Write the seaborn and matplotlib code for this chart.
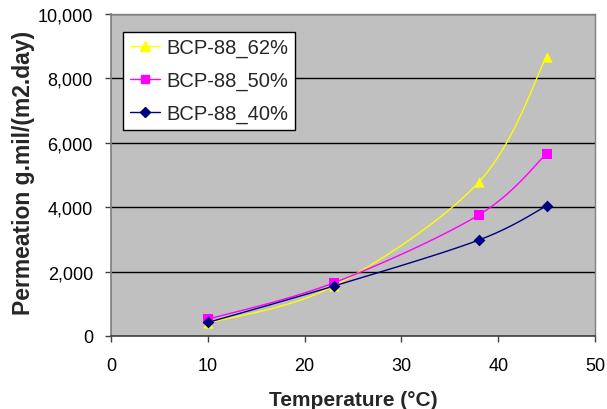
import numpy as np
import pandas as pd
import matplotlib
matplotlib.use("Agg")
import matplotlib.pyplot as plt
import seaborn as sns
from matplotlib.lines import Line2D
from matplotlib.ticker import FuncFormatter, MultipleLocator

temperature = [10, 23, 38, 45]
bcp_62 = [400, 1550, 4780, 8680]
bcp_50 = [520, 1650, 3760, 5660]
bcp_40 = [420, 1550, 2980, 4040]
series_names = ["BCP-88_62%", "BCP-88_50%", "BCP-88_40%"]

sns.set_theme(style="white")
plt.rcParams["font.family"] = ["Liberation Sans", "DejaVu Sans"]

df = pd.DataFrame({
    "Temperature": temperature * 3,
    "Permeation": bcp_62 + bcp_50 + bcp_40,
    "Series": [n for n in series_names for _ in temperature],
})

colors = {"BCP-88_62%": "#FFFF00", "BCP-88_50%": "#FF00FF", "BCP-88_40%": "#000080"}
markers = {"BCP-88_62%": "^", "BCP-88_50%": "s", "BCP-88_40%": "D"}
msizes = {"BCP-88_62%": 7.5, "BCP-88_50%": 6.5, "BCP-88_40%": 6}


def smooth(x, y, n=40):
    """Catmull-Rom curve through the points, like a smoothed spreadsheet line."""
    x = np.asarray(x, float)
    y = np.asarray(y, float)
    px = np.concatenate([[x[0]], x, [x[-1]]])
    py = np.concatenate([[y[0]], y, [y[-1]]])
    xs, ys = [], []
    t = np.linspace(0, 1, n)
    for i in range(1, len(px) - 2):
        p0, p1, p2, p3 = (np.array([px[j], py[j]]) for j in (i - 1, i, i + 1, i + 2))
        m1 = (p2 - p0) / 6.0
        m2 = (p3 - p1) / 6.0
        b0, b1, b2, b3 = p1, p1 + m1, p2 - m2, p2
        pts = ((1 - t) ** 3)[:, None] * b0 + (3 * (1 - t) ** 2 * t)[:, None] * b1 \
            + (3 * (1 - t) * t ** 2)[:, None] * b2 + (t ** 3)[:, None] * b3
        xs.extend(pts[:, 0])
        ys.extend(pts[:, 1])
    return np.array(xs), np.array(ys)


fig = plt.figure(figsize=(6.07, 4.10), dpi=100)
fig.patch.set_facecolor("white")
ax = fig.add_axes([111 / 607, 73 / 410, 484 / 607, 322 / 410])
ax.set_facecolor("#C0C0C0")

curves = []
for name in series_names:
    sub = df[df["Series"] == name]
    cx, cy = smooth(sub["Temperature"], sub["Permeation"])
    curves.append(pd.DataFrame({"Temperature": cx, "Permeation": cy, "Series": name}))
curve_df = pd.concat(curves, ignore_index=True)

sns.lineplot(data=curve_df, x="Temperature", y="Permeation", hue="Series",
             palette=colors, hue_order=series_names, sort=False,
             estimator=None, linewidth=1.0, legend=False, ax=ax, zorder=3)

for name in series_names:
    sub = df[df["Series"] == name]
    sns.scatterplot(data=sub, x="Temperature", y="Permeation", color=colors[name],
                    marker=markers[name], s=msizes[name] ** 2, edgecolor=colors[name],
                    linewidth=0, ax=ax, zorder=4, legend=False)

ax.set_xlim(0, 50)
ax.set_ylim(0, 10000)
ax.xaxis.set_major_locator(MultipleLocator(10))
ax.yaxis.set_major_locator(MultipleLocator(2000))
ax.yaxis.set_major_formatter(FuncFormatter(lambda v, p: f"{int(v):,}"))
ax.grid(axis="y", color="black", linewidth=1.0)
ax.set_axisbelow(True)

for side in ["top", "right"]:
    ax.spines[side].set_color("#808080")
    ax.spines[side].set_linewidth(1.0)
ax.spines["left"].set_color("#808080")
ax.spines["bottom"].set_color("#404040")
ax.spines["bottom"].set_linewidth(1.2)

ax.tick_params(axis="both", which="major", direction="out", length=4, width=1,
               color="#404040", labelsize=13, labelcolor="black")
ax.tick_params(axis="x", pad=11, bottom=True)
ax.tick_params(axis="y", pad=9, left=True)

ax.set_xlabel("Temperature (°C)", fontsize=15, fontweight="bold")
ax.set_ylabel("Permeation g.mil/(m2.day)", fontsize=16.5, fontweight="bold")
ax.xaxis.set_label_coords(0.5, -0.168)
ax.yaxis.set_label_coords(-0.158, 0.51)

handles = [Line2D([0], [0], color=colors[n], marker=markers[n], markersize=msizes[n] * 0.9,
                  linewidth=1.0) for n in series_names]
leg = ax.legend(handles, series_names, loc="upper left", bbox_to_anchor=(0.025, 0.945),
                fontsize=14.5, frameon=True, fancybox=False, framealpha=1,
                edgecolor="black", handlelength=1.5, handletextpad=0.35,
                labelspacing=0.68, borderpad=0.32, borderaxespad=0)
leg.get_frame().set_linewidth(1.0)

fig.savefig("out.png", dpi=100)
